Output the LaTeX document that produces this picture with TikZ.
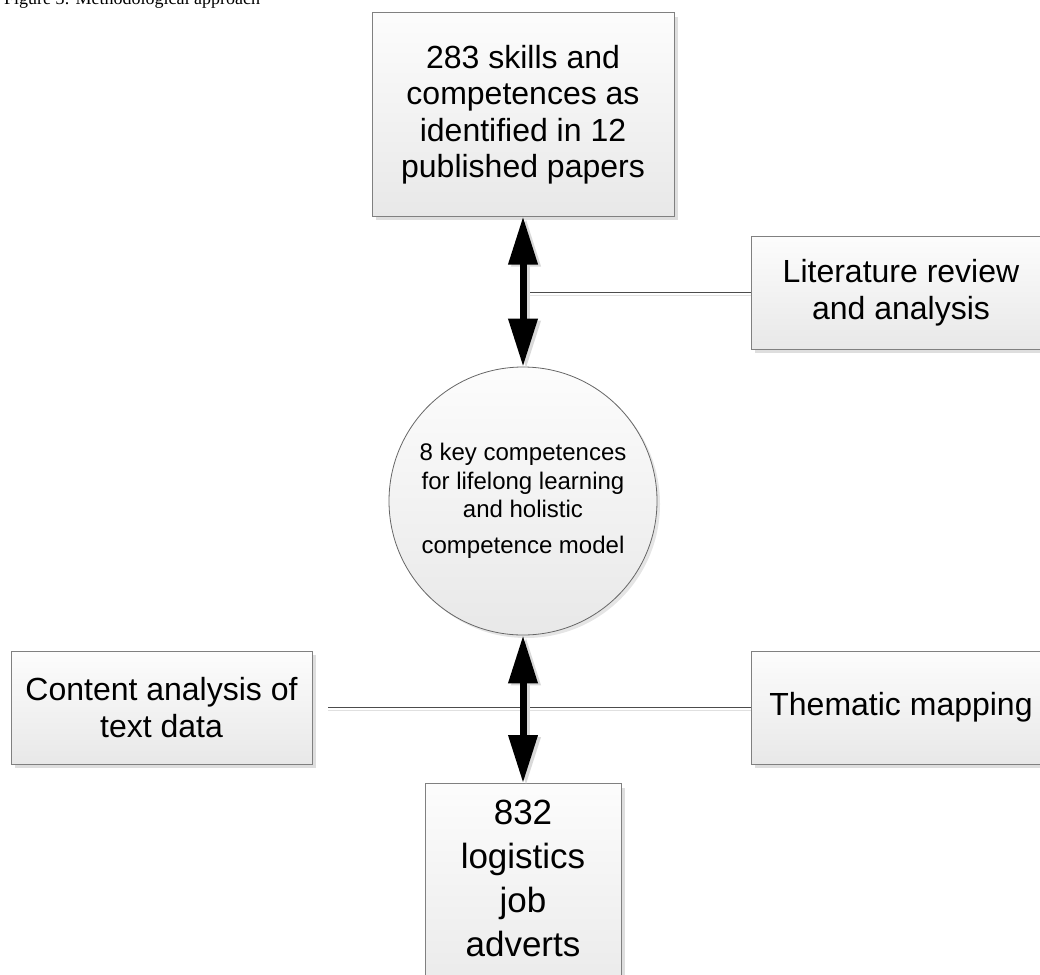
\documentclass[tikz,border=0pt]{standalone}
\usepackage{fontspec}
\setmainfont{Liberation Sans}
\newfontfamily\titlefont{Liberation Serif}
\usetikzlibrary{arrows.meta,shadows}
\begin{document}
\begin{tikzpicture}[x=1pt,y=-1pt,
  boxshadow/.style={drop shadow={shadow xshift=4pt,shadow yshift=-4pt,fill=black!13,opacity=1}},
  procbox/.style={draw=black!50,line width=1pt,top color=black!1,bottom color=black!9,
    inner sep=0pt,align=center,boxshadow},
  bigtext/.style={font=\fontsize{32}{36.5}\selectfont},
  thinline/.style={draw=black!70,line width=1pt},
  lineshadow/.style={draw=black!12,line width=1.2pt},
  bigarrow/.style={draw=black,line width=7pt,
    {Triangle[width=28pt,length=48pt]}-{Triangle[width=28pt,length=48pt]}},
  arrowshadow/.style={draw=black!15,line width=7pt,
    {Triangle[width=28pt,length=48pt]}-{Triangle[width=28pt,length=48pt]}}
]
\useasboundingbox (0,0) rectangle (1040,974);
\clip (0,0) rectangle (1040,974);

% title (cut off at the top)
\node[anchor=base west,inner sep=0pt,font=\titlefont\fontsize{18}{20}\selectfont] (title) at (4,5)
  {Figure 3: Methodological approach};

% boxes
\node[procbox,bigtext,minimum width=302pt,minimum height=203pt] (papers) at (523,114.5)
  {283 skills and\\competences as\\identified in 12\\published papers};
\node[procbox,bigtext,minimum width=300pt,minimum height=113pt] (lit) at (901,292.5)
  {Literature review\\and analysis};
\node[circle,draw=black!60,line width=0.8pt,top color=black!1,bottom color=black!9,
  minimum size=268pt,inner sep=0pt,align=center,font=\fontsize{24}{28.5}\selectfont,
  drop shadow={shadow xshift=3pt,shadow yshift=-3pt,fill=black!10,opacity=1}] (circ) at (523,501)
  {8 key competences\\for lifelong learning\\and holistic\\[7pt]competence model};
\node[procbox,bigtext,minimum width=301pt,minimum height=113pt] (content) at (161.5,707.5)
  {Content analysis of\\text data};
\node[procbox,bigtext,minimum width=300pt,minimum height=113pt] (them) at (901,707.5)
  {Thematic mapping};
\node[procbox,minimum width=196pt,minimum height=230pt,anchor=north] (adverts) at (523,783) {};
\node[anchor=north,inner sep=0pt,align=center,font=\fontsize{35}{44}\selectfont] (advtext) at (523,800)
  {832\\logistics\\job\\adverts};

% thin connector lines
\coordinate (m1) at (523,292.5);
\coordinate (m2) at (328,707.5);
\draw[lineshadow] ([yshift=-3pt]m1) -- ([yshift=-3pt]lit.west);
\draw[thinline] (m1) -- (lit.west);
\draw[lineshadow] ([yshift=-3pt]m2) -- ([yshift=-3pt]them.west);
\draw[thinline] (m2) -- (them.west);

% thick double arrows
\draw[arrowshadow] ([shift={(3pt,-2pt)}]papers.south) -- ([shift={(3pt,-2pt)}]circ.north);
\draw[arrowshadow] ([shift={(3pt,-2pt)}]circ.south) -- ([shift={(3pt,-2pt)}]adverts.north);
\draw[bigarrow] (papers.south) -- (circ.north);
\draw[bigarrow] (circ.south) -- (adverts.north);
\end{tikzpicture}
\end{document}
